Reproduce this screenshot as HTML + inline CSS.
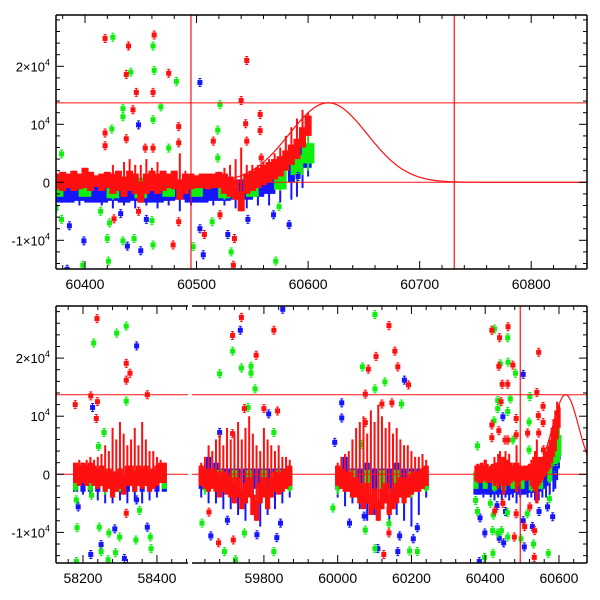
<!DOCTYPE html>
<html><head><meta charset="utf-8">
<style>
html,body{margin:0;padding:0;background:#fff;}
svg{display:block;font-family:"Liberation Sans",sans-serif;}
</style></head>
<body>
<svg id="chart" width="600" height="600" viewBox="0 0 600 600" xmlns="http://www.w3.org/2000/svg">
<rect width="600" height="600" fill="#fff"/>
</svg>
<script>
// ---- Data (flux values in raw units, time in days) ----
const redT=[58180,58190,58200,58210,58220,58230,58240,58250,58260,58270,58280,58290,58300,58310,58320,58330,58340,58350,58360,58370,58380,58390,58400,58410,58420,
59630,59640,59650,59660,59670,59680,59690,59700,59710,59720,59730,59740,59750,59760,59770,59780,59790,59800,59810,59820,59830,59840,59850,59860,59870,
60000,60010,60020,60030,60040,60050,60060,60070,60080,60090,60100,60110,60120,60130,60140,60150,60160,60170,60180,60190,60200,60210,60220,60230,60240,
60375,60380,60385,60390,60395,60400,60405,60410,60415,60420,60425,60430,60435,60440,60445,60450,60455,60460,60465,60470,60475,60480,60485,60490,60495,60500,60505,60510,60515,60520,60525,60530,60535,60540,60545,60550,60555,60560,60565,60570,60575,60580,60585,60590,60595,60600];
const redLo=[-1500,-2000,-1500,-2000,-1500,-2000,-2500,-2000,-3000,-2500,-4000,-3000,-2500,-3500,-2000,-2000,-3000,-2000,-2500,-2000,-3000,-2500,-2000,-1500,-1500,
-2000,-2500,-3000,-2500,-3000,-4000,-3000,-3500,-4000,-5000,-4000,-6000,-5000,-4000,-7000,-8000,-5000,-4000,-6000,-4000,-3000,-3500,-3000,-2500,-2000,
-2000,-2500,-3000,-3000,-4000,-4000,-5000,-6000,-5000,-7000,-6000,-8000,-6000,-5000,-7000,-6000,-5000,-4000,-5000,-4000,-3500,-3000,-3000,-2500,-2000,
-1200,-1500,-1000,-1500,-1200,-1000,-1500,-800,-1500,-1000,-2000,-1500,-2500,-1500,-2000,-3500,-2000,-1500,-2000,-1500,-1000,-1200,-3000,-2000,-1200,-1000,-1000,-1200,-1000,-1000,-2000,-2500,-3000,-5000,-2000,-1500,-1000,-500,0,500,1000,2000,3000,4000,6000,8000];
const redHi=[2000,2500,2000,2500,3000,2500,3000,3500,5000,4000,8000,6000,9000,7000,5000,6000,8000,5000,9000,6000,4000,4000,3000,2500,2000,
2000,3000,5000,4000,6000,7000,5000,8000,6000,7000,9000,6000,8000,10000,7000,5000,4000,8000,6000,5000,4000,5000,3000,3000,2500,
2000,3000,3500,4000,6000,8000,9000,10000,7000,11000,9000,12000,10000,8000,9000,7000,8000,6000,5000,5000,4000,3000,3000,3500,2500,
1500,1800,1500,2000,1500,2500,1800,1200,1500,1800,3000,2000,3500,4000,3000,3000,4000,2500,3500,2000,1500,2000,5000,2000,1500,1200,1500,1500,1500,1800,2500,3000,4000,6000,3000,3000,3000,3500,4000,5000,6000,8000,9500,11000,12500,12000];
const blueT=[58180,58200,58220,58240,58260,58280,58300,58320,58340,58360,58380,58400,58420,
59630,59650,59670,59690,59710,59730,59750,59770,59790,59810,59830,59850,59870,
60000,60020,60040,60060,60080,60100,60120,60140,60160,60180,60200,60220,60240,
60375,60385,60395,60405,60415,60425,60435,60445,60455,60465,60475,60485,60495,60505,60515,60525,60535,60545,60555,60565,60575,60585,60590,60595,60600];
const blueLo=[-3000,-3500,-4000,-4500,-5000,-5000,-4500,-5000,-4500,-5000,-4500,-4000,-3000,
-4000,-5000,-5000,-6000,-6000,-7000,-8000,-7000,-9000,-7000,-6000,-5000,-4000,
-4000,-5500,-5000,-6000,-8000,-7000,-6000,-8000,-7000,-8000,-9000,-7000,-4000,
-3500,-3500,-4000,-3500,-4000,-4500,-4000,-4500,-4000,-4500,-4000,-5000,-4000,-3500,-4000,-4000,-4500,-4500,-4000,-4000,-3500,-3000,-2500,-1000,1000];
const blueHi=[500,500,500,500,500,500,500,500,500,500,500,500,500,
1000,3000,2000,1000,1000,1000,1000,1000,1000,1000,1000,1000,1000,
1000,3000,1000,1000,2000,1000,1000,1000,2000,1000,1000,1000,1000,
0,0,300,0,0,300,0,300,0,0,300,500,0,0,300,300,500,500,1000,1500,2500,3500,5000,6000,6000];
const greenT=[58180,58220,58260,58300,58340,58380,58420,59640,59680,59720,59760,59800,59840,59870,60000,60040,60080,60120,60160,60200,60240,60375,60400,60425,60450,60475,60500,60525,60550,60575,60590,60600];
const greenLo=[-3000,-3000,-3500,-3000,-3000,-3000,-2500,-3500,-4000,-4000,-4000,-4000,-3500,-3000,-3500,-4000,-4000,-4000,-4000,-4000,-3000,-2500,-2500,-3000,-3000,-2500,-2500,-3000,-2500,-1500,0,2000];
const greenHi=[1000,1000,1500,1500,1000,1000,1000,1500,2000,2000,2000,2000,1500,1000,1500,2000,2000,2000,2000,1500,1000,500,500,1000,1000,500,500,1000,1000,2500,6000,8000];
// outliers
const redOutT=[60418,60462,60439,60437,60446,60461,60475,60545,60540,60443,60418,60437,60418,60454,60461,60484,60484,60484,60544,60557,60557,60515,60545,60534,60533,60507,60521,60426,60448,60558,60479,
58238,58317,58327,58317,58221,58374,58239,58236,58179,58317,
59739,59715,59827,59779,59747,59800,59837,59715,59677,59651,59717,
60139,60104,60155,60083,60163,60192,60075,60120,60147,60075,60139,60125,60139];
const redOutV=[24800,25400,23500,18600,15500,15500,18800,21000,14100,12500,8500,7500,6300,5900,5900,9600,6800,-6800,10100,11700,8900,7100,7100,-9700,-14300,-9000,-5600,-6300,-5000,4200,-10800,
26800,19100,17400,16200,13500,13700,12500,9600,12000,-6700,
27000,23900,24800,20500,11300,11300,10900,7000,-11800,-6500,-11300,
25600,20300,21200,18100,18500,15400,13800,12100,12300,8900,-6200,-13800,-10100];
const greenOutT=[60425,60461,60462,60441,60482,60521,60434,60434,60461,60468,60424,60475,60519,60379,60519,60374,60379,60414,60422,60420,60434,60444,60461,60398,60421,60531,60497,60571,60574,60585,60514,60460,
58317,58291,58229,58317,58257,58242,58182,58184,58244,58270,58299,58343,58382,58384,58249,58288,58182,58268,58353,58223,
59715,59680,59739,59765,59765,59776,59757,59827,59632,59693,59723,59827,59747,
60101,60067,60128,60101,60173,60064,59987,60075,60101,60195,60216,60139];
const greenOutV=[25000,23500,19300,19000,17400,13400,12700,11300,10800,13000,9200,5900,9000,4900,4200,-4500,-6400,-5000,-7000,-9700,-10100,-9700,-10800,-14300,-13600,-12000,-11100,-13600,-4200,5400,-6800,-6600,
25500,24300,22600,12600,7200,4800,-4400,-9200,-9100,-10100,-10800,-11300,-10800,-12800,-13300,-13500,-15000,-14700,-6200,-3600,
21200,17300,18300,18600,17400,14700,11500,7200,-8400,-13300,-14700,-13300,-10100,
27500,18500,15900,14700,12100,5100,-5800,-9600,-12800,-13200,-13300,-8500];
const blueOutT=[60503,60448,60384,60399,60386,60438,60450,60506,60528,60546,60569,60583,60503,60455,60432,60591,
58345,58226,58257,58187,58249,58221,58312,58345,58374,58286,
59736,59851,59680,59813,59656,59701,59781,59835,59845,
60011,60011,60181,59992,60032,60072,60168,60205,60163,60216,60109];
const blueOutV=[17200,9900,-15000,-10100,-7500,-11000,-11800,-12500,-9000,-6400,-5600,-7300,-8000,-6400,-5400,1000,
22100,11500,7200,-5600,-12100,-13800,-14500,-4400,-9100,-9400,
24800,28400,7200,10400,-10600,-7900,-10400,-10900,-8400,
12300,9700,16200,5500,-8400,-7200,-10600,-11100,-13300,-9200,-12800];
// model / reference lines
const modelPeakT=60618, modelPeakF=13700, modelWidth=35;
const refLevel=13700, refT1=60495, refT2=60731;
const topTicks=[60400,60500,60600,60700,60800];
const botTicks=[58200,58400,59800,60000,60200,60400,60600];

const NS='http://www.w3.org/2000/svg';
const svg=document.getElementById('chart');
function mk(tag,attrs,parent){const e=document.createElementNS(NS,tag);for(const k in attrs)e.setAttribute(k,attrs[k]);(parent||svg).appendChild(e);return e;}

const panels=[
 {name:'top',y0:15,y1:269,zero:182.3,ppu:58/1e4,segs:[{x0:56,x1:587,t0:60374,t1:60850}],ticks:topTicks,vlines:[refT1,refT2]},
 {name:'bottom',y0:306,y1:563,zero:474.3,ppu:58.1/1e4,segs:[{x0:56,x1:188,t0:58127,t1:58484},{x0:192,x1:587,t0:59605,t1:60676}],ticks:botTicks,vlines:[refT1]}
];
const RED='#ff1010',GREEN='#10ee10',BLUE='#1515ff';
const CORE=3500;
const defs=mk('defs',{});
panels.forEach((p,pi)=>{
 const yOf=v=>p.zero-v*p.ppu;
 p.segs.forEach((s,si)=>{
  const xOf=t=>s.x0+(t-s.t0)*(s.x1-s.x0)/(s.t1-s.t0);
  const cid='clip'+pi+'_'+si;
  const cp=mk('clipPath',{id:cid},defs);
  mk('rect',{x:s.x0,y:p.y0,width:s.x1-s.x0,height:p.y1-p.y0},cp);
  const g=mk('g',{'clip-path':'url(#'+cid+')'});
  
  
  function bands(T,Lo,Hi,col,nm,anchor){
   T.forEach((t,i)=>{
    let gap=10;
    if(i>0&&T[i]-T[i-1]<gap)gap=T[i]-T[i-1];
    if(i<T.length-1&&T[i+1]-T[i]<gap)gap=T[i+1]-T[i];
    const w=Math.max(3,gap*(s.x1-s.x0)/(s.t1-s.t0)+1.5);
    const x=xOf(t);
    // full extent as thin spike
    const sp=mk('line',{x1:x,x2:x,y1:yOf(Hi[i]),y2:yOf(Lo[i]),stroke:col,'stroke-width':2},g);
    
    
    const range=Hi[i]-Lo[i];
    const ch=Math.min(range,CORE);
    let cLo;
    if(anchor==='low')cLo=Lo[i];
    else if(anchor==='high')cLo=Hi[i]-ch;
    else cLo=(Lo[i]+Hi[i]-ch)/2;
    const r=mk('rect',{x:x-w/2,y:yOf(cLo+ch),width:w,height:Math.max(3,ch*p.ppu),fill:col},g);
    
    
   });
  }
  function pts(T,V,col,nm){
   T.forEach((t,i)=>{
    const x=xOf(t),y=yOf(V[i]);
    const e=mk('path',{d:`M${x},${y-4}V${y+4}M${x-1.5},${y-4}h3M${x-1.5},${y+4}h3`,stroke:col,'stroke-width':1,fill:'none'},g);
    
    
    const r=mk('rect',{x:x-2.5,y:y-2.5,width:5,height:5,fill:col},g);
    
    
   });
  }
  bands(blueT,blueLo,blueHi,BLUE,'blue','high');
  bands(greenT,greenLo,greenHi,GREEN,'green','mid');
  pts(blueOutT,blueOutV,BLUE,'blue');
  pts(greenOutT,greenOutV,GREEN,'green');
  bands(redT,redLo,redHi,RED,'red','low');
  pts(redOutT,redOutV,RED,'red');
  // reference lines
  let h=mk('line',{x1:s.x0,x2:s.x1,y1:yOf(0),y2:yOf(0),stroke:RED,'stroke-width':1},g);
  
  
  h=mk('line',{x1:s.x0,x2:s.x1,y1:yOf(refLevel),y2:yOf(refLevel),stroke:RED,'stroke-width':1},g);
  
  
  p.vlines.forEach(t=>{
   const v=mk('line',{x1:xOf(t),x2:xOf(t),y1:p.y0,y2:p.y1,stroke:RED,'stroke-width':1.2},g);
   
   
  });
  // model curve
  let d='';
  for(let t=Math.max(s.t0,modelPeakT-200);t<=s.t1;t+=0.5){
   const f=modelPeakF*Math.exp(-Math.pow(t-modelPeakT,2)/(2*modelWidth*modelWidth));
   d+=(d?'L':'M')+xOf(t).toFixed(1)+','+yOf(f).toFixed(1);
  }
  const c=mk('path',{d:d,stroke:RED,'stroke-width':1.2,fill:'none'},g);
  
  
  // x ticks
  const ax=mk('g',{stroke:'#000','stroke-width':1});
  
  
  const step=p.name==='top'?20:40;
  for(let t=Math.ceil(s.t0/step)*step;t<=s.t1;t+=step){
   const major=(p.name==='top'?t%100===0:t%200===0);
   const L=major?8:4,x=xOf(t);
   mk('line',{x1:x,x2:x,y1:p.y1,y2:p.y1-L},ax);
   mk('line',{x1:x,x2:x,y1:p.y0,y2:p.y0+L},ax);
  }
  mk('line',{x1:s.x0,x2:s.x1,y1:p.y0,y2:p.y0,'stroke-width':1.5},ax);
  mk('line',{x1:s.x0,x2:s.x1,y1:p.y1,y2:p.y1,'stroke-width':1.5},ax);
  p.ticks.forEach(t=>{
   if(t<s.t0||t>s.t1)return;
   const tx=mk('text',{x:xOf(t),y:p.y1+20,'text-anchor':'middle','font-size':14,fill:'#000',stroke:'none'});
   tx.textContent=String(t);
   
   
  });
 });
 // y axes
 const x0=p.segs[0].x0,x1=p.segs[p.segs.length-1].x1;
 const ay=mk('g',{stroke:'#000','stroke-width':1});
 
 
 mk('line',{x1:x0,x2:x0,y1:p.y0,y2:p.y1,'stroke-width':1.5},ay);
 mk('line',{x1:x1,x2:x1,y1:p.y0,y2:p.y1,'stroke-width':1.5},ay);
 for(let v=-16000;v<=30000;v+=2000){
  const y=yOf(v);if(y<p.y0||y>p.y1)continue;
  const L=(v%10000===0)?8:4;
  mk('line',{x1:x0,x2:x0+L,y1:y,y2:y},ay);
  mk('line',{x1:x1,x2:x1-L,y1:y,y2:y},ay);
 }
 const labs=[[20000,'2×10','4'],[10000,'10','4'],[0,'0',''],[-10000,'-1×10','4']];
 labs.forEach(l=>{
  const t=mk('text',{x:x0-6,y:yOf(l[0])+5,'text-anchor':'end','font-size':13,fill:'#000'});
  
  
  if(l[2]){
   const a=mk('tspan',{},t);a.textContent=l[1];
   const b=mk('tspan',{dy:-6,'font-size':9},t);b.textContent=l[2];
  } else t.textContent=l[1];
 });
});
</script>
</body></html>
